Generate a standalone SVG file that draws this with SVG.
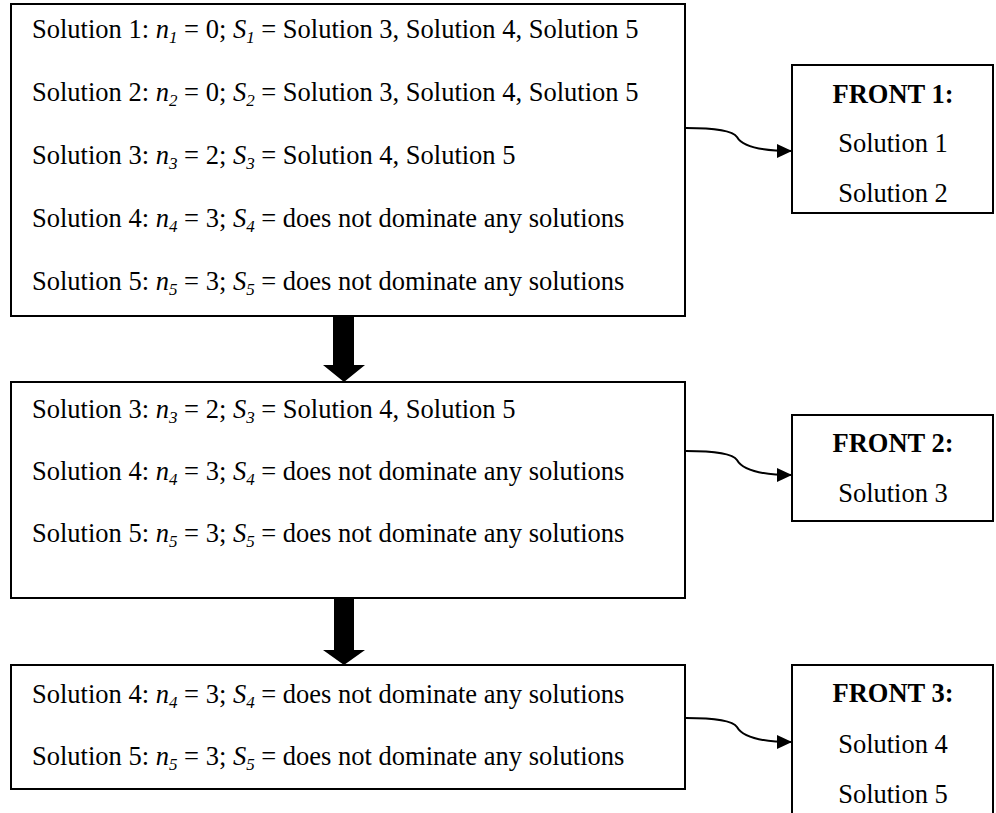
<svg xmlns="http://www.w3.org/2000/svg" width="996" height="813" viewBox="0 0 996 813">
  <style>
    text { font-family: "Liberation Serif", "Times New Roman", serif; font-size: 26.5px; fill: #000; }
    .i { font-style: italic; }
    .sub { font-style: italic; font-size: 17px; }
    .b { font-weight: bold; }
    .c { text-anchor: middle; }
    .box { fill: #fff; stroke: #000; stroke-width: 2; }
    .link { fill: none; stroke: #000; stroke-width: 2; }
    .block { fill: #000; stroke: none; }
  </style>
  <defs>
    <marker id="head" markerWidth="16" markerHeight="14" refX="15" refY="7" orient="auto" markerUnits="userSpaceOnUse">
      <path d="M0,0 L15,7 L0,14 Z" fill="#000"/>
    </marker>
  </defs>

  <rect width="996" height="813" fill="#fff"/>

  <!-- population boxes -->
  <g id="pop1">
    <rect class="box" x="11" y="4" width="674" height="312"/>
    <text x="32" y="38">Solution 1: <tspan class="i">n</tspan><tspan class="sub" dy="5">1</tspan><tspan dy="-5"> = 0; </tspan><tspan class="i">S</tspan><tspan class="sub" dy="5">1</tspan><tspan dy="-5"> = Solution 3, Solution 4, Solution 5</tspan></text>
    <text x="32" y="101">Solution 2: <tspan class="i">n</tspan><tspan class="sub" dy="5">2</tspan><tspan dy="-5"> = 0; </tspan><tspan class="i">S</tspan><tspan class="sub" dy="5">2</tspan><tspan dy="-5"> = Solution 3, Solution 4, Solution 5</tspan></text>
    <text x="32" y="164">Solution 3: <tspan class="i">n</tspan><tspan class="sub" dy="5">3</tspan><tspan dy="-5"> = 2; </tspan><tspan class="i">S</tspan><tspan class="sub" dy="5">3</tspan><tspan dy="-5"> = Solution 4, Solution 5</tspan></text>
    <text x="32" y="227">Solution 4: <tspan class="i">n</tspan><tspan class="sub" dy="5">4</tspan><tspan dy="-5"> = 3; </tspan><tspan class="i">S</tspan><tspan class="sub" dy="5">4</tspan><tspan dy="-5"> = does not dominate any solutions</tspan></text>
    <text x="32" y="290">Solution 5: <tspan class="i">n</tspan><tspan class="sub" dy="5">5</tspan><tspan dy="-5"> = 3; </tspan><tspan class="i">S</tspan><tspan class="sub" dy="5">5</tspan><tspan dy="-5"> = does not dominate any solutions</tspan></text>
  </g>

  <g id="pop2">
    <rect class="box" x="11" y="382" width="674" height="216"/>
    <text x="32" y="418">Solution 3: <tspan class="i">n</tspan><tspan class="sub" dy="5">3</tspan><tspan dy="-5"> = 2; </tspan><tspan class="i">S</tspan><tspan class="sub" dy="5">3</tspan><tspan dy="-5"> = Solution 4, Solution 5</tspan></text>
    <text x="32" y="480">Solution 4: <tspan class="i">n</tspan><tspan class="sub" dy="5">4</tspan><tspan dy="-5"> = 3; </tspan><tspan class="i">S</tspan><tspan class="sub" dy="5">4</tspan><tspan dy="-5"> = does not dominate any solutions</tspan></text>
    <text x="32" y="542">Solution 5: <tspan class="i">n</tspan><tspan class="sub" dy="5">5</tspan><tspan dy="-5"> = 3; </tspan><tspan class="i">S</tspan><tspan class="sub" dy="5">5</tspan><tspan dy="-5"> = does not dominate any solutions</tspan></text>
  </g>

  <g id="pop3">
    <rect class="box" x="11" y="665" width="674" height="124"/>
    <text x="32" y="703">Solution 4: <tspan class="i">n</tspan><tspan class="sub" dy="5">4</tspan><tspan dy="-5"> = 3; </tspan><tspan class="i">S</tspan><tspan class="sub" dy="5">4</tspan><tspan dy="-5"> = does not dominate any solutions</tspan></text>
    <text x="32" y="765">Solution 5: <tspan class="i">n</tspan><tspan class="sub" dy="5">5</tspan><tspan dy="-5"> = 3; </tspan><tspan class="i">S</tspan><tspan class="sub" dy="5">5</tspan><tspan dy="-5"> = does not dominate any solutions</tspan></text>
  </g>

  <!-- front boxes -->
  <g id="front1">
    <rect class="box" x="792" y="65" width="201" height="148"/>
    <text class="b c" x="893" y="103">FRONT 1:</text>
    <text class="c" x="893" y="152">Solution 1</text>
    <text class="c" x="893" y="202">Solution 2</text>
  </g>

  <g id="front2">
    <rect class="box" x="792" y="415" width="201" height="106"/>
    <text class="b c" x="893" y="452">FRONT 2:</text>
    <text class="c" x="893" y="502">Solution 3</text>
  </g>

  <g id="front3">
    <rect class="box" x="792" y="665" width="201" height="170"/>
    <text class="b c" x="893" y="702">FRONT 3:</text>
    <text class="c" x="893" y="753">Solution 4</text>
    <text class="c" x="893" y="803">Solution 5</text>
  </g>

  <!-- connectors -->
  <g id="connectors">
    <path class="block" d="M333,316 H354 V365 H365 L344,382 L323,365 H333 Z"/>
    <path class="block" d="M334,598 H354 V650 H365 L344,665 L323,650 H334 Z"/>
    <path class="link" marker-end="url(#head)" d="M686,128 C715,128 733,131 737,137 C742,146 760,151 792,151"/>
    <path class="link" marker-end="url(#head)" d="M686,451 C715,451 733,454 737,460 C742,469 760,475 792,475"/>
    <path class="link" marker-end="url(#head)" d="M686,718 C715,718 733,721 737,727 C742,736 760,742 792,742"/>
  </g>
</svg>
